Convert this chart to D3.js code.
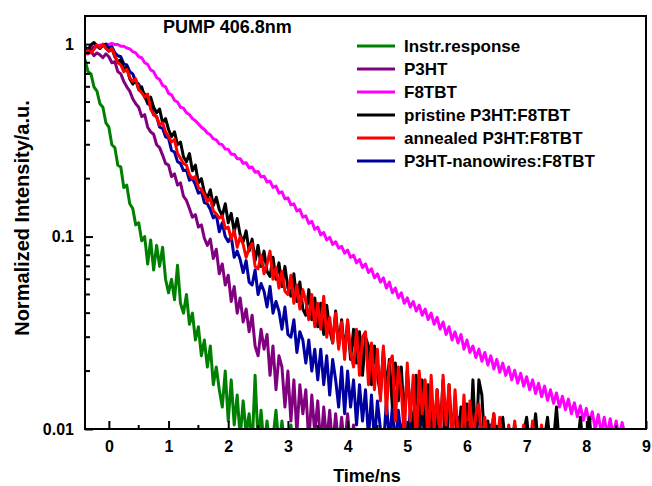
<!DOCTYPE html>
<html>
<head>
<meta charset="utf-8">
<script src="https://cdn.jsdelivr.net/npm/d3@7"></script>
<style>
	body { margin: 0; background: #fff; }
	text { font-family: "Liberation Sans", Arial, sans-serif; font-weight: bold; fill: #000; }
</style>
</head>
<body>
<div id="chart"></div>
<script>
// time axis start and step (ns) shared by the decays
var tStart = -0.4;
var tStep = 0.05;

// tick labels
var xTicks = [0, 1, 2, 3, 4, 5, 6, 7, 8, 9];
var yTicks = [0.01, 0.1, 1];
var yTickLabels = ["0.01", "0.1", "1"];

// legend names and colours
var seriesNames = ["Instr.response", "P3HT", "F8TBT", "pristine P3HT:F8TBT", "annealed P3HT:F8TBT", "P3HT-nanowires:F8TBT"];
var seriesColors = ["#008000", "#800080", "#ff00ff", "#000000", "#ff0000", "#0000a0"];

// normalized counts, one value every 0.05 ns from -0.4 ns (20 values per line = 1 ns)
var instrResponse = [0.83, 0.72, 0.7, 0.6, 0.57, 0.49, 0.47, 0.39, 0.37, 0.3, 0.29, 0.235, 0.23, 0.18, 0.185, 0.148, 0.14, 0.115, 0.118, 0.095,
	0.1, 0.072, 0.096, 0.067, 0.09, 0.07, 0.088, 0.06, 0.051, 0.06, 0.047, 0.071, 0.045, 0.04, 0.05, 0.035, 0.04, 0.029, 0.034, 0.024,
	0.029, 0.021, 0.027, 0.017, 0.021, 0.016, 0.013, 0.02, 0.011, 0.018, 0.0105, 0.015, 0.009, 0.014, 0.0095, 0.012, 0.008, 0.019, 0.0085, 0.0125,
	0.008, 0.011, 0.008, 0.009, 0.0125, 0.008, 0.011, 0.008, 0.008, 0.0105, 0.008, 0.008];

var p3ht = [0.93, 0.89, 0.92, 0.87, 0.9, 0.88, 0.85, 0.89, 0.86, 0.8, 0.81, 0.72, 0.7, 0.64, 0.6, 0.57, 0.52, 0.49, 0.47, 0.42,
	0.43, 0.37, 0.35, 0.34, 0.3, 0.29, 0.265, 0.24, 0.235, 0.205, 0.212, 0.185, 0.19, 0.162, 0.154, 0.14, 0.126, 0.13, 0.112, 0.115,
	0.098, 0.09, 0.097, 0.077, 0.086, 0.064, 0.072, 0.056, 0.063, 0.046, 0.055, 0.04, 0.048, 0.036, 0.042, 0.032, 0.039, 0.027, 0.024, 0.033,
	0.026, 0.031, 0.019, 0.027, 0.016, 0.024, 0.021, 0.013, 0.02, 0.011, 0.018, 0.0095, 0.017, 0.012, 0.016, 0.0085, 0.015, 0.0095, 0.014, 0.008,
	0.013, 0.0085, 0.0125, 0.008, 0.012, 0.008, 0.0115, 0.008, 0.012, 0.008, 0.0105, 0.008, 0.0095, 0.008];

var f8tbt = [0.93, 0.945, 0.95, 0.97, 0.97, 0.99, 0.985, 1.0, 0.995, 1.01, 0.995, 0.995, 0.975, 0.975, 0.955, 0.945, 0.915, 0.9, 0.86, 0.85,
	0.8, 0.785, 0.735, 0.72, 0.67, 0.655, 0.61, 0.6, 0.555, 0.545, 0.51, 0.5, 0.47, 0.465, 0.44, 0.43, 0.41, 0.4, 0.385, 0.37,
	0.36, 0.345, 0.338, 0.322, 0.318, 0.303, 0.3, 0.285, 0.284, 0.268, 0.268, 0.254, 0.254, 0.24, 0.242, 0.227, 0.23, 0.216, 0.218, 0.204,
	0.206, 0.192, 0.194, 0.18, 0.183, 0.168, 0.171, 0.157, 0.159, 0.146, 0.148, 0.136, 0.138, 0.126, 0.128, 0.117, 0.12, 0.109, 0.112, 0.102,
	0.105, 0.096, 0.099, 0.091, 0.094, 0.087, 0.089, 0.082, 0.085, 0.078, 0.08, 0.073, 0.076, 0.069, 0.072, 0.065, 0.068, 0.061, 0.064, 0.058,
	0.061, 0.054, 0.058, 0.051, 0.054, 0.048, 0.051, 0.045, 0.048, 0.043, 0.046, 0.041, 0.044, 0.039, 0.042, 0.037, 0.04, 0.035, 0.038, 0.033,
	0.036, 0.031, 0.034, 0.029, 0.032, 0.028, 0.031, 0.026, 0.029, 0.025, 0.027, 0.0235, 0.026, 0.0225, 0.025, 0.0215, 0.024, 0.0205, 0.023, 0.0197,
	0.022, 0.019, 0.021, 0.018, 0.0202, 0.0173, 0.0195, 0.0167, 0.0187, 0.016, 0.018, 0.0153, 0.0173, 0.0147, 0.0167, 0.0141, 0.016, 0.0136, 0.0154, 0.013,
	0.0148, 0.0126, 0.0143, 0.012, 0.0137, 0.0116, 0.0132, 0.0111, 0.0128, 0.0106, 0.0123, 0.0099, 0.0119, 0.0095, 0.0115, 0.0093, 0.0113, 0.0092, 0.011, 0.0091,
	0.0108, 0.0093];

var pristine = [0.97, 0.93, 0.99, 1.02, 0.98, 0.95, 0.99, 0.96, 0.92, 0.95, 0.86, 0.81, 0.83, 0.74, 0.76, 0.66, 0.62, 0.65, 0.58, 0.6,
	0.53, 0.5, 0.53, 0.47, 0.44, 0.46, 0.39, 0.41, 0.36, 0.33, 0.35, 0.3, 0.31, 0.26, 0.245, 0.27, 0.22, 0.235, 0.19, 0.2,
	0.17, 0.158, 0.175, 0.145, 0.16, 0.138, 0.128, 0.148, 0.118, 0.132, 0.106, 0.124, 0.102, 0.094, 0.107, 0.084, 0.097, 0.075, 0.09, 0.07,
	0.084, 0.066, 0.062, 0.078, 0.06, 0.073, 0.055, 0.07, 0.054, 0.049, 0.064, 0.046, 0.058, 0.042, 0.039, 0.053, 0.037, 0.048, 0.034, 0.045,
	0.031, 0.044, 0.033, 0.028, 0.041, 0.027, 0.037, 0.025, 0.036, 0.023, 0.033, 0.022, 0.032, 0.019, 0.03, 0.027, 0.017, 0.027, 0.019, 0.015,
	0.026, 0.016, 0.023, 0.013, 0.022, 0.014, 0.021, 0.011, 0.02, 0.013, 0.01, 0.019, 0.0095, 0.018, 0.008, 0.017, 0.011, 0.008, 0.016, 0.0095,
	0.018, 0.008, 0.017, 0.009, 0.014, 0.008, 0.013, 0.0085, 0.0135, 0.008, 0.018, 0.008, 0.018, 0.015, 0.008, 0.011, 0.008, 0.012, 0.008, 0.0085,
	0.0115, 0.008, 0.009, 0.008, 0.0105, 0.008, 0.008, 0.0095, 0.0115, 0.008, 0.0085, 0.012, 0.008, 0.008, 0.009, 0.0115, 0.008, 0.0085, 0.013, 0.008,
	0.008, 0.009, 0.008, 0.008, 0.0085, 0.008, 0.0115, 0.008, 0.0085, 0.0115, 0.008];

var annealed = [0.88, 0.93, 0.9, 0.94, 0.99, 0.96, 1.0, 0.95, 0.92, 0.95, 0.87, 0.8, 0.78, 0.72, 0.74, 0.67, 0.64, 0.66, 0.58, 0.56,
	0.53, 0.55, 0.46, 0.43, 0.42, 0.38, 0.39, 0.35, 0.33, 0.31, 0.32, 0.27, 0.255, 0.24, 0.235, 0.21, 0.2, 0.205, 0.18, 0.176,
	0.165, 0.152, 0.158, 0.136, 0.131, 0.125, 0.128, 0.11, 0.112, 0.097, 0.108, 0.088, 0.1, 0.091, 0.078, 0.087, 0.092, 0.07, 0.068, 0.08,
	0.064, 0.072, 0.084, 0.06, 0.069, 0.054, 0.066, 0.052, 0.05, 0.063, 0.045, 0.056, 0.042, 0.053, 0.046, 0.037, 0.05, 0.034, 0.045, 0.033,
	0.049, 0.03, 0.038, 0.028, 0.04, 0.026, 0.036, 0.023, 0.037, 0.025, 0.021, 0.033, 0.019, 0.03, 0.032, 0.017, 0.028, 0.016, 0.026, 0.014,
	0.027, 0.012, 0.022, 0.024, 0.011, 0.021, 0.016, 0.009, 0.022, 0.011, 0.019, 0.008, 0.02, 0.012, 0.018, 0.008, 0.019, 0.01, 0.016, 0.008,
	0.019, 0.0105, 0.017, 0.008, 0.016, 0.0095, 0.008, 0.015, 0.008, 0.014, 0.008, 0.012, 0.0135, 0.008, 0.0115, 0.008, 0.0095, 0.012, 0.008, 0.0115,
	0.008, 0.008, 0.0105, 0.008, 0.011, 0.008, 0.008, 0.0105, 0.008, 0.008, 0.011, 0.008, 0.008, 0.0105, 0.008, 0.0095, 0.008];

var nanowires = [0.92, 0.95, 0.91, 0.96, 0.98, 0.95, 0.99, 1.0, 0.95, 0.97, 0.9, 0.87, 0.86, 0.79, 0.78, 0.72, 0.7, 0.64, 0.62, 0.57,
	0.55, 0.49, 0.48, 0.43, 0.42, 0.37, 0.365, 0.33, 0.325, 0.28, 0.275, 0.245, 0.24, 0.22, 0.222, 0.196, 0.2, 0.186, 0.168, 0.172,
	0.15, 0.148, 0.138, 0.125, 0.13, 0.106, 0.118, 0.1, 0.094, 0.1, 0.078, 0.084, 0.076, 0.065, 0.075, 0.058, 0.056, 0.067, 0.05, 0.057,
	0.052, 0.043, 0.055, 0.04, 0.046, 0.041, 0.033, 0.043, 0.031, 0.03, 0.037, 0.025, 0.032, 0.029, 0.022, 0.029, 0.02, 0.026, 0.018, 0.026,
	0.017, 0.024, 0.015, 0.023, 0.018, 0.013, 0.021, 0.012, 0.02, 0.013, 0.018, 0.0105, 0.017, 0.011, 0.016, 0.009, 0.015, 0.0085, 0.014, 0.01,
	0.008, 0.014, 0.0085, 0.013, 0.008, 0.0125, 0.009, 0.012, 0.008, 0.0125, 0.008, 0.011, 0.009, 0.013, 0.008, 0.0095, 0.011, 0.008, 0.0115, 0.008,
	0.009, 0.0135, 0.008, 0.0095, 0.008, 0.0115, 0.008, 0.0085, 0.008, 0.011, 0.008, 0.0095, 0.0125, 0.008, 0.009, 0.008, 0.0105, 0.008];

//draw the decay plot with D3
function drawChart() {
	var width = 652;
	var height = 486;
	var margin = {left: 85, right: 6, top: 16, bottom: 57};

	var svg = d3.select("#chart").append("svg")
		.attr("width", width)
		.attr("height", height);

	var x = d3.scaleLinear()
		.domain([-0.4, 9])
		.range([margin.left, width - margin.right]);

	var y = d3.scaleLog()
		.domain([0.01, 1.4])
		.range([height - margin.bottom, margin.top]);

	//clip so the noisy tails stop at the frame
	svg.append("clipPath")
		.attr("id", "plotClip")
		.append("rect")
		.attr("x", x.range()[0])
		.attr("y", margin.top)
		.attr("width", x.range()[1] - x.range()[0])
		.attr("height", height - margin.bottom - margin.top);

	var line = d3.line()
		.x(function(d) { return x(d.t); })
		.y(function(d) { return y(d.v); });

	function toPoints(values) {
		return values.map(function(v, i) {
			return {t: tStart + i * tStep, v: v};
		});
	}

	//drawing order: red ends up on top as in the original
	var series = [
		{values: instrResponse, color: seriesColors[0]},
		{values: p3ht, color: seriesColors[1]},
		{values: f8tbt, color: seriesColors[2]},
		{values: nanowires, color: seriesColors[5]},
		{values: pristine, color: seriesColors[3]},
		{values: annealed, color: seriesColors[4]}
	];

	var plot = svg.append("g").attr("clip-path", "url(#plotClip)");
	series.forEach(function(s) {
		plot.append("path")
			.attr("d", line(toPoints(s.values)))
			.attr("fill", "none")
			.attr("stroke", s.color)
			.attr("stroke-width", 3)
			.attr("stroke-linejoin", "round");
	});

	//frame
	svg.append("rect")
		.attr("x", x.range()[0])
		.attr("y", margin.top)
		.attr("width", x.range()[1] - x.range()[0])
		.attr("height", height - margin.bottom - margin.top)
		.attr("fill", "none")
		.attr("stroke", "#000")
		.attr("stroke-width", 2);

	//x axis, ticks pointing inward
	var xMinor = [0.5, 1.5, 2.5, 3.5, 4.5, 5.5, 6.5, 7.5, 8.5];
	var xAxis = svg.append("g")
		.attr("transform", "translate(0," + (height - margin.bottom) + ")")
		.call(d3.axisBottom(x).tickValues(xTicks).tickSizeInner(-8).tickSizeOuter(0).tickPadding(12).tickFormat(d3.format("d")));
	xAxis.select(".domain").remove();
	xAxis.selectAll("line").attr("stroke-width", 2);
	xAxis.selectAll("text").attr("font-size", 16).attr("font-family", null);
	xAxis.append("g").selectAll("line")
		.data(xMinor)
		.enter().append("line")
		.attr("x1", function(d) { return x(d); })
		.attr("x2", function(d) { return x(d); })
		.attr("y1", 0)
		.attr("y2", -4)
		.attr("stroke", "#000")
		.attr("stroke-width", 2);

	//y axis, log decades with minor ticks
	var yMinor = [];
	[0.01, 0.1, 1].forEach(function(dec) {
		for (var k = 2; k <= 9; k++) {
			if (dec * k <= 1.4) yMinor.push(dec * k);
		}
	});
	var yAxis = svg.append("g")
		.attr("transform", "translate(" + margin.left + ",0)")
		.call(d3.axisLeft(y).tickValues(yTicks).tickSizeInner(-8).tickSizeOuter(0).tickPadding(11)
			.tickFormat(function(d, i) { return yTickLabels[i]; }));
	yAxis.select(".domain").remove();
	yAxis.selectAll("line").attr("stroke-width", 2);
	yAxis.selectAll("text").attr("font-size", 16).attr("font-family", null);
	yAxis.append("g").selectAll("line")
		.data(yMinor)
		.enter().append("line")
		.attr("x1", 0)
		.attr("x2", 5)
		.attr("y1", function(d) { return y(d); })
		.attr("y2", function(d) { return y(d); })
		.attr("stroke", "#000")
		.attr("stroke-width", 2);

	//axis titles
	svg.append("text")
		.attr("x", 367)
		.attr("y", 482)
		.attr("text-anchor", "middle")
		.attr("font-size", 18)
		.text("Time/ns");

	svg.append("text")
		.attr("transform", "translate(29,218) rotate(-90)")
		.attr("text-anchor", "middle")
		.attr("font-size", 20)
		.text("Normalized Intensity/a.u.");

	svg.append("text")
		.attr("x", 163)
		.attr("y", 33)
		.attr("font-size", 18)
		.text("PUMP 406.8nm");

	//legend
	var legend = svg.append("g").attr("transform", "translate(357,46)");
	seriesNames.forEach(function(name, i) {
		legend.append("line")
			.attr("x1", 0)
			.attr("x2", 38)
			.attr("y1", i * 23)
			.attr("y2", i * 23)
			.attr("stroke", seriesColors[i])
			.attr("stroke-width", 3);
		legend.append("text")
			.attr("x", 47)
			.attr("y", i * 23 + 6)
			.attr("font-size", 17)
			.text(name);
	});
}

drawChart();
</script>
</body>
</html>
